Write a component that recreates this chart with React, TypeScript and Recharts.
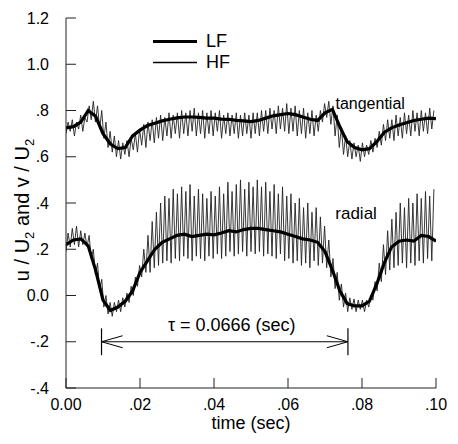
import React from 'react';
import { LineChart, Line, XAxis, YAxis, ReferenceLine, ReferenceDot, Legend } from 'recharts';

const FONT = '"Liberation Sans", Arial, Helvetica, sans-serif';

// ---- axes ----
const xTicks = [0, 0.02, 0.04, 0.06, 0.08, 0.1];
const xTickLabels = ['0.00', '.02', '.04', '.06', '.08', '.10'];
const yTicks = [-0.4, -0.2, 0, 0.2, 0.4, 0.6, 0.8, 1.0, 1.2];
const yTickLabels = ['-.4', '-.2', '0.0', '.2', '.4', '.6', '.8', '1.0', '1.2'];

// ---- low-frequency (smoothed) signals ----
const lfTimes = [
  0, 0.002, 0.004, 0.006, 0.008, 0.01, 0.012, 0.014, 0.016, 0.018,
  0.02, 0.022, 0.024, 0.026, 0.028, 0.03, 0.032, 0.034, 0.036, 0.038,
  0.04, 0.042, 0.044, 0.046, 0.048, 0.05, 0.052, 0.054, 0.056, 0.058,
  0.06, 0.062, 0.064, 0.066, 0.068, 0.07, 0.072, 0.074, 0.076, 0.078,
  0.08, 0.082, 0.084, 0.086, 0.088, 0.09, 0.092, 0.094, 0.096, 0.098, 0.1,
];
const tangentialLF = [
  0.725, 0.73, 0.75, 0.8, 0.775, 0.7, 0.655, 0.635, 0.64, 0.69,
  0.715, 0.735, 0.745, 0.755, 0.762, 0.768, 0.772, 0.772, 0.77, 0.767,
  0.767, 0.763, 0.762, 0.757, 0.755, 0.752, 0.757, 0.767, 0.777, 0.782,
  0.787, 0.782, 0.772, 0.762, 0.757, 0.79, 0.805, 0.73, 0.665, 0.64,
  0.63, 0.635, 0.665, 0.705, 0.725, 0.737, 0.747, 0.757, 0.762, 0.767, 0.765,
];
const radialLF = [
  0.22, 0.24, 0.245, 0.215, 0.11, -0.02, -0.065, -0.05, -0.025, 0.02,
  0.1, 0.15, 0.2, 0.23, 0.245, 0.26, 0.265, 0.255, 0.26, 0.265,
  0.262, 0.27, 0.28, 0.275, 0.285, 0.29, 0.29, 0.285, 0.28, 0.275,
  0.265, 0.255, 0.245, 0.24, 0.23, 0.19, 0.11, 0.02, -0.035, -0.045,
  -0.045, -0.025, 0.05, 0.14, 0.21, 0.235, 0.24, 0.235, 0.26, 0.255, 0.235,
];

// ---- high-frequency signals: one trough and one peak per blade-passing cycle ----
const tangentialHFTroughs = [
  0.70, 0.71, 0.69, 0.72, 0.71, 0.75, 0.76, 0.75, 0.72, 0.68,
  0.64, 0.62, 0.60, 0.59, 0.61, 0.60, 0.63, 0.62, 0.65, 0.64,
  0.67, 0.66, 0.68, 0.67, 0.69, 0.68, 0.70, 0.68, 0.70, 0.69,
  0.71, 0.69, 0.70, 0.68, 0.70, 0.69, 0.71, 0.68, 0.70, 0.69,
  0.70, 0.68, 0.69, 0.70, 0.68, 0.70, 0.69, 0.71, 0.70, 0.72,
  0.70, 0.72, 0.71, 0.70, 0.71, 0.69, 0.70, 0.68, 0.70, 0.69,
  0.71, 0.75, 0.77, 0.74, 0.69, 0.64, 0.61, 0.60, 0.59, 0.60,
  0.58, 0.60, 0.61, 0.62, 0.64, 0.65, 0.67, 0.68, 0.67, 0.69,
  0.68, 0.70, 0.69, 0.71, 0.69, 0.71, 0.70, 0.72,
];
const tangentialHFPeaks = [
  0.75, 0.76, 0.75, 0.78, 0.77, 0.82, 0.84, 0.82, 0.80, 0.75,
  0.71, 0.69, 0.67, 0.66, 0.67, 0.68, 0.70, 0.72, 0.74, 0.75,
  0.76, 0.77, 0.78, 0.77, 0.79, 0.78, 0.79, 0.80, 0.79, 0.80,
  0.81, 0.79, 0.80, 0.79, 0.80, 0.79, 0.80, 0.78, 0.79, 0.78,
  0.79, 0.78, 0.79, 0.78, 0.79, 0.79, 0.80, 0.80, 0.81, 0.80,
  0.82, 0.81, 0.83, 0.81, 0.82, 0.80, 0.81, 0.79, 0.80, 0.78,
  0.80, 0.83, 0.84, 0.82, 0.78, 0.73, 0.69, 0.67, 0.66, 0.65,
  0.66, 0.65, 0.67, 0.68, 0.71, 0.74, 0.76, 0.76, 0.78, 0.77,
  0.79, 0.78, 0.80, 0.79, 0.80, 0.79, 0.81, 0.80,
];
const radialHFTroughs = [
  0.19, 0.21, 0.22, 0.21, 0.22, 0.21, 0.16, 0.09, 0.02, -0.05,
  -0.08, -0.09, -0.07, -0.07, -0.05, -0.03, 0.0, 0.04, 0.08, 0.10,
  0.10, 0.12, 0.13, 0.14, 0.15, 0.14, 0.16, 0.15, 0.17, 0.16,
  0.15, 0.17, 0.16, 0.15, 0.17, 0.16, 0.18, 0.16, 0.17, 0.19,
  0.17, 0.18, 0.19, 0.17, 0.19, 0.18, 0.19, 0.17, 0.18, 0.17,
  0.16, 0.18, 0.15, 0.16, 0.14, 0.15, 0.13, 0.14, 0.12, 0.15,
  0.13, 0.14, 0.12, 0.08, 0.03, -0.02, -0.05, -0.07, -0.06, -0.07,
  -0.06, -0.07, -0.05, -0.02, 0.02, 0.06, 0.09, 0.11, 0.12, 0.13,
  0.14, 0.12, 0.14, 0.13, 0.15, 0.14, 0.16, 0.15,
];
const radialHFPeaks = [
  0.27, 0.29, 0.30, 0.28, 0.27, 0.26, 0.20, 0.14, 0.07, 0.0,
  -0.03, -0.03, -0.02, -0.01, 0.01, 0.04, 0.08, 0.13, 0.20, 0.26,
  0.32, 0.36, 0.40, 0.43, 0.42, 0.46, 0.44, 0.47, 0.45, 0.48,
  0.43, 0.46, 0.44, 0.42, 0.45, 0.43, 0.47, 0.44, 0.49, 0.45,
  0.48, 0.50, 0.46, 0.49, 0.47, 0.50, 0.47, 0.49, 0.45, 0.48,
  0.44, 0.47, 0.43, 0.44, 0.40, 0.42, 0.38, 0.40, 0.36, 0.38,
  0.34, 0.30, 0.24, 0.16, 0.10, 0.05, 0.01, -0.01, -0.015, -0.02,
  -0.02, -0.02, 0.0, 0.06, 0.14, 0.22, 0.28, 0.33, 0.36, 0.40,
  0.38, 0.42, 0.40, 0.44, 0.42, 0.45, 0.43, 0.46,
];

// ---- annotation values ----
const tauStart = 0.0096;
const tauEnd = 0.0762;
const tauLevel = -0.2;
const tauText = 'τ = 0.0666 (sec)';

const legendItems = [
  { label: 'LF', width: 3.2 },
  { label: 'HF', width: 1.3 },
];

const toSeries = (times: number[], vals: number[]) => times.map((t, i) => ({ t, v: vals[i] }));
const cycleCount = radialHFPeaks.length;
const hfSeries = (troughs: number[], peaks: number[]) => {
  const period = 0.1 / cycleCount;
  const out: { t: number; v: number }[] = [];
  troughs.forEach((tr, i) => {
    out.push({ t: i * period, v: tr });
    out.push({ t: (i + 0.5) * period, v: peaks[i] });
  });
  return out;
};

const tangLFData = toSeries(lfTimes, tangentialLF);
const radLFData = toSeries(lfTimes, radialLF);
const tangHFData = hfSeries(tangentialHFTroughs, tangentialHFPeaks);
const radHFData = hfSeries(radialHFTroughs, radialHFPeaks);

const YLabel = () => (
  <text
    x={21}
    y={202}
    transform="rotate(-90, 21, 202)"
    textAnchor="middle"
    fontFamily={FONT}
    fontSize={20}
    fill="#000"
  >
    u / U<tspan dy={5} fontSize={13}>2</tspan>
    <tspan dy={-5}> and v / U</tspan>
    <tspan dy={5} fontSize={13}>2</tspan>
  </text>
);

const XLabel = () => (
  <text x={243} y={421} textAnchor="middle" fontFamily={FONT} fontSize={18} fill="#000">
    time (sec)
  </text>
);

const LegendContent = () => (
  <div style={{ fontFamily: FONT, fontSize: 18, color: '#000' }}>
    {legendItems.map((it) => (
      <div key={it.label} style={{ display: 'flex', alignItems: 'center', height: 21 }}>
        <svg width={44} height={21} style={{ display: 'block' }}>
          <line x1={0} x2={44} y1={10.5} y2={10.5} stroke="#000" strokeWidth={it.width} />
        </svg>
        <span style={{ marginLeft: 9, lineHeight: '21px' }}>{it.label}</span>
      </div>
    ))}
  </div>
);

const tickStyle = { fontSize: 16, fill: '#000', fontFamily: FONT };
const seg = (x1: number, y1: number, x2: number, y2: number) => [
  { x: x1, y: y1 },
  { x: x2, y: y2 },
];
const headLen = 0.0057;
const headHalf = 0.026;
const barHalf = 0.058;

export default function App() {
  return (
    <LineChart width={450} height={428} margin={{ top: 10, right: 22, bottom: 0, left: 0 }}>
      <XAxis
        dataKey="t"
        type="number"
        domain={[0, 0.1]}
        ticks={xTicks}
        interval={0}
        tickFormatter={(_v: number, i: number) => xTickLabels[i]}
        tick={tickStyle}
        tickSize={-10}
        tickMargin={21}
        height={48}
        stroke="#222"
        allowDataOverflow
        label={<XLabel />}
      />
      <XAxis xAxisId="top" orientation="top" type="number" domain={[0, 0.1]} tick={false} tickLine={false} height={0} stroke="#222" />
      <YAxis
        type="number"
        domain={[-0.4, 1.2]}
        ticks={yTicks}
        interval={0}
        tickFormatter={(_v: number, i: number) => yTickLabels[i]}
        tick={tickStyle}
        tickSize={-10}
        tickMargin={27}
        width={58}
        stroke="#222"
        allowDataOverflow
        label={<YLabel />}
      />
      <YAxis yAxisId="right" orientation="right" type="number" domain={[-0.4, 1.2]} tick={false} tickLine={false} width={0} stroke="#222" />
      <Legend
        layout="horizontal"
        verticalAlign="middle"
        align="center"
        content={<LegendContent />}
        wrapperStyle={{ position: 'absolute', left: 145, top: 23, width: 'auto', height: 'auto' }}
      />
      <Line data={tangHFData} dataKey="v" stroke="#222" strokeWidth={0.9} dot={false} activeDot={false} isAnimationActive={false} name="HF tangential" legendType="none" />
      <Line data={radHFData} dataKey="v" stroke="#222" strokeWidth={0.9} dot={false} activeDot={false} isAnimationActive={false} name="HF radial" legendType="none" />
      <Line data={tangLFData} dataKey="v" stroke="#000" strokeWidth={3.2} dot={false} activeDot={false} isAnimationActive={false} name="LF tangential" legendType="none" />
      <Line data={radLFData} dataKey="v" stroke="#000" strokeWidth={3.2} dot={false} activeDot={false} isAnimationActive={false} name="LF radial" legendType="none" />
      <ReferenceDot x={0.0822} y={0.83} r={0} fill="none" stroke="none"
        label={{ value: 'tangential', position: 'center', fontSize: 16, fill: '#000', fontFamily: FONT }} />
      <ReferenceDot x={0.0784} y={0.359} r={0} fill="none" stroke="none"
        label={{ value: 'radial', position: 'center', fontSize: 17, fill: '#000', fontFamily: FONT }} />
      <ReferenceDot x={0.0448} y={-0.124} r={0} fill="none" stroke="none"
        label={{ value: tauText, position: 'center', fontSize: 18, fill: '#000', fontFamily: FONT }} />
      <ReferenceLine segment={seg(tauStart, tauLevel, tauEnd, tauLevel)} stroke="#000" strokeWidth={1} />
      <ReferenceLine segment={seg(tauStart, tauLevel - barHalf, tauStart, tauLevel + barHalf)} stroke="#000" strokeWidth={1.2} />
      <ReferenceLine segment={seg(tauEnd, tauLevel - barHalf, tauEnd, tauLevel + barHalf)} stroke="#000" strokeWidth={1.2} />
      <ReferenceLine segment={seg(tauStart, tauLevel, tauStart + headLen, tauLevel + headHalf)} stroke="#000" strokeWidth={1} />
      <ReferenceLine segment={seg(tauStart, tauLevel, tauStart + headLen, tauLevel - headHalf)} stroke="#000" strokeWidth={1} />
      <ReferenceLine segment={seg(tauEnd, tauLevel, tauEnd - headLen, tauLevel + headHalf)} stroke="#000" strokeWidth={1} />
      <ReferenceLine segment={seg(tauEnd, tauLevel, tauEnd - headLen, tauLevel - headHalf)} stroke="#000" strokeWidth={1} />
    </LineChart>
  );
}
